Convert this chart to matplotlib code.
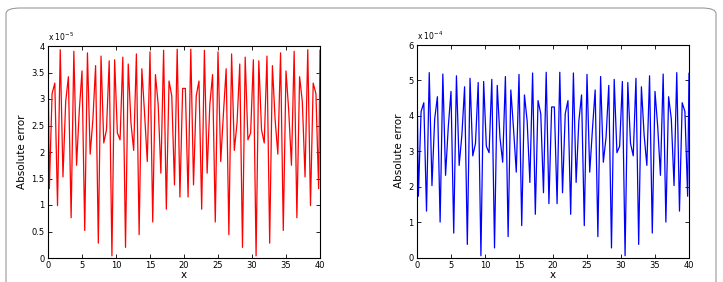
import numpy as np
import matplotlib
matplotlib.use("Agg")
import matplotlib.pyplot as plt
from matplotlib.patches import FancyBboxPatch

# Sample points: cell centres 0.2 ... 39.8 plus both end points
x_inner = np.arange(0.2, 40.0, 0.4)
x = np.concatenate(([0.0], x_inner, [40.0]))

# Left panel (x 1e-5), first half, second half mirrored
red_half = [1.31, 3.10, 3.30, 0.99, 3.93, 1.53, 2.95, 3.42, 0.76, 3.90,
            1.75, 2.78, 3.53, 0.52, 3.87, 1.96, 2.61, 3.63, 0.28, 3.81,
            2.17, 2.42, 3.72, 0.04, 3.74, 2.36, 2.23, 3.79, 0.20, 3.66,
            2.55, 2.03, 3.85, 0.44, 3.57, 2.73, 1.82, 3.89, 0.68, 3.46,
            2.90, 1.60, 3.92, 0.92, 3.34, 3.06, 1.38, 3.94, 1.15, 3.20]
red_rest = [3.20, 1.15, 3.94, 1.38, 3.06, 3.34, 0.92, 3.92, 1.60, 2.90,
            3.46, 0.68, 3.89, 1.82, 2.73, 3.57, 0.44, 3.85, 2.03, 2.55,
            3.66, 0.20, 3.79, 2.23, 2.36, 3.74, 0.04, 3.72, 2.42, 2.17,
            3.81, 0.28, 3.63, 2.61, 1.96, 3.87, 0.52, 3.53, 2.78, 1.75,
            3.90, 0.76, 3.42, 2.95, 1.53, 3.93, 0.99, 3.30, 3.10, 1.31]
red_ends = [3.92, 3.92]

# Right panel (x 1e-4)
blue_half = [1.73, 4.12, 4.37, 1.31, 5.22, 2.03, 3.91, 4.54, 1.00, 5.18,
             2.32, 3.69, 4.69, 0.69, 5.13, 2.60, 3.46, 4.82, 0.37, 5.06,
             2.87, 3.22, 4.94, 0.05, 4.97, 3.14, 2.96, 5.03, 0.27, 4.86,
             3.39, 2.69, 5.11, 0.59, 4.73, 3.62, 2.41, 5.17, 0.90, 4.59,
             3.85, 2.12, 5.21, 1.22, 4.43, 4.06, 1.83, 5.23, 1.52, 4.25]
blue_rest = [4.25, 1.52, 5.23, 1.83, 4.06, 4.43, 1.22, 5.21, 2.12, 3.85,
             4.59, 0.90, 5.17, 2.41, 3.62, 4.73, 0.59, 5.11, 2.69, 3.39,
             4.86, 0.27, 5.03, 2.96, 3.14, 4.97, 0.05, 4.94, 3.22, 2.87,
             5.06, 0.37, 4.82, 3.46, 2.60, 5.13, 0.69, 4.69, 3.69, 2.32,
             5.18, 1.00, 4.54, 3.91, 2.03, 5.22, 1.31, 4.37, 4.12, 1.73]
blue_ends = [5.20, 5.20]

red = [red_ends[0]] + red_half + red_rest + [red_ends[1]]
blue = [blue_ends[0]] + blue_half + blue_rest + [blue_ends[1]]

W, H = 723, 282
fig = plt.figure(figsize=(W / 100, H / 100), dpi=100)

# outer frame
fig.patches.append(FancyBboxPatch((6 / W, -0.05), 710 / W, 1.05 - 8 / H,
                                  boxstyle="round,pad=0,rounding_size=0.02",
                                  transform=fig.transFigure, fill=False,
                                  edgecolor="#9a9a9a", linewidth=0.8))


def panel(rect, y, color, ymax, yticks, ytl, expo):
    ax = fig.add_axes(rect)
    ax.plot(x, y, color=color, lw=0.9)
    ax.set_xlim(0, 40)
    ax.set_ylim(0, ymax)
    ax.set_xticks(range(0, 41, 5))
    ax.set_yticks(yticks)
    ax.set_yticklabels(ytl)
    ax.tick_params(direction="in", top=True, right=True, labelsize=6,
                   length=3, width=0.6, pad=2.5)
    for s in ax.spines.values():
        s.set_linewidth(0.8)
    ax.set_xlabel("x", fontsize=7.5, labelpad=0)
    ax.set_ylabel("Absolute error", fontsize=7.5, labelpad=3)
    ax.text(0.0, 1.015, "x 10$^{%d}$" % expo, transform=ax.transAxes,
            fontsize=5.5, ha="left", va="bottom")
    return ax


panel([48 / W, 24 / H, 272 / W, 212 / H], red, "red", 4,
      [0, 0.5, 1, 1.5, 2, 2.5, 3, 3.5, 4],
      ["0", "0.5", "1", "1.5", "2", "2.5", "3", "3.5", "4"], -5)
panel([417 / W, 24.5 / H, 272 / W, 212.5 / H], blue, "blue", 6,
      [0, 1, 2, 3, 4, 5, 6], ["0", "1", "2", "3", "4", "5", "6"], -4)

fig.savefig("out.png", dpi=100)
